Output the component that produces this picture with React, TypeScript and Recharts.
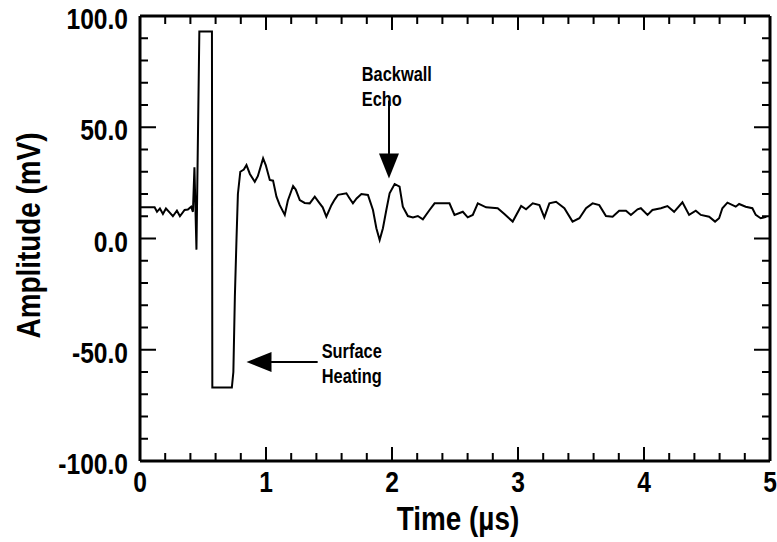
import React from "react";
import {
  LineChart,
  Line,
  XAxis,
  YAxis,
  ReferenceLine,
  ReferenceDot,
} from "recharts";

const times = [
  0, 0.116, 0.135, 0.158, 0.182, 0.206, 0.238, 0.261, 0.293, 0.317, 0.354,
  0.38, 0.406, 0.42, 0.432, 0.448, 0.471, 0.571, 0.574, 0.729, 0.741, 0.753,
  0.766, 0.777, 0.796, 0.824, 0.845, 0.872, 0.911, 0.935, 0.977, 0.998, 1.03,
  1.056, 1.083, 1.109, 1.149, 1.173, 1.215, 1.236, 1.268, 1.307, 1.347, 1.387,
  1.426, 1.45, 1.479, 1.519, 1.545, 1.571, 1.638, 1.664, 1.69, 1.719, 1.757,
  1.809, 1.849, 1.876, 1.902, 1.928, 1.955, 1.981, 2.021, 2.06, 2.086, 2.126,
  2.166, 2.205, 2.245, 2.298, 2.338, 2.456, 2.496, 2.562, 2.601, 2.641, 2.681,
  2.747, 2.839, 2.892, 2.958, 3.025, 3.064, 3.117, 3.17, 3.209, 3.249, 3.302,
  3.368, 3.433, 3.487, 3.54, 3.592, 3.645, 3.698, 3.751, 3.803, 3.857, 3.896,
  3.949, 3.975, 4.028, 4.067, 4.134, 4.186, 4.239, 4.305, 4.358, 4.411, 4.451,
  4.517, 4.564, 4.596, 4.622, 4.662, 4.728, 4.755, 4.807, 4.86, 4.887, 4.926,
  4.971,
];
const amps = [
  14, 14, 12, 13.5, 11, 13.5, 11.5, 10, 12.5, 10, 12.8, 13, 14.3, 12, 32, -5,
  93, 93, -67, -67, -60, -26, 0, 20, 30, 31, 33, 29, 25.5, 28, 36, 33, 26.3, 26,
  18.8, 15, 10.6, 17, 23.6, 22, 17.3, 16, 15.8, 18.8, 15.8, 14, 9.8, 15, 17.5,
  19.6, 20.3, 18, 15.8, 18, 20, 19.6, 12.8, 4.6, -0.7, 4.6, 12.8, 20.3, 24.5,
  23.3, 14.3, 10.1, 9.5, 10.1, 8.6, 12.8, 15.8, 15.8, 10.6, 12, 9.5, 10.6, 15.8,
  14, 13.6, 11, 7.6, 14.6, 13.1, 15.8, 15, 9.5, 15.8, 16.5, 13.6, 7.6, 9.1,
  13.6, 15.8, 15, 10.1, 9.8, 12.5, 12.5, 10.6, 13.1, 13.6, 10.6, 12.8, 13.6,
  14.6, 12, 16.3, 10.6, 12.5, 10.6, 9.8, 7.6, 9.1, 13.6, 16.1, 14.3, 15.5, 14.3,
  13.6, 10.6, 9.1, 9.8,
];

// ticks every 0.2 µs / 10 mV, labelled every 1 µs / 50 mV
const xTicks = [
  0, 0.2, 0.4, 0.6, 0.8, 1, 1.2, 1.4, 1.6, 1.8, 2, 2.2, 2.4, 2.6, 2.8, 3, 3.2,
  3.4, 3.6, 3.8, 4, 4.2, 4.4, 4.6, 4.8, 5,
];
const xLabelled = [0, 1, 2, 3, 4, 5];
const yTicks = [
  -100, -90, -80, -70, -60, -50, -40, -30, -20, -10, 0, 10, 20, 30, 40, 50, 60,
  70, 80, 90, 100,
];
const yLabelled = [-100, -50, 0, 50, 100];

const data = times.map((t, i) => ({ t, v: amps[i] }));

const FONT = "'Liberation Sans', Arial, sans-serif";
const INK = "#000";
const SQUEEZE = 0.82;

// px per data unit of the plot box (630 px / 5 µs, 445 px / 200 mV)
const PX_X = 126;
const PX_Y = 2.225;

// bold, horizontally condensed text (reference uses a narrow Helvetica)
function Narrow({ x, y, size, anchor = "start", rotate = 0, children }: any) {
  return (
    <text
      transform={`translate(${x} ${y}) rotate(${rotate}) scale(${SQUEEZE} 1)`}
      textAnchor={anchor}
      fontFamily={FONT}
      fontWeight="bold"
      fontSize={size}
      fill={INK}
    >
      {children}
    </text>
  );
}

const XLabel = (p: any) => (
  <Narrow x={p.x} y={p.y + 31} size={30} anchor="middle">
    {p.payload.value}
  </Narrow>
);
const YLabel = (p: any) => (
  <Narrow x={p.x - 12} y={p.y + 13} size={30} anchor="end">
    {Number(p.payload.value).toFixed(1)}
  </Narrow>
);

const xLen = (v: number) => (xLabelled.includes(v) ? 14 : 8);
const yLen = (v: number) => (yLabelled.includes(v) ? 16 : 8);

// all inward frame ticks, drawn around the plot centre (2.5 µs, 0 mV)
const frameTicks = (p: any) => {
  const bottom = p.cy + 100 * PX_Y;
  const top = p.cy - 100 * PX_Y;
  const left = p.cx - 2.5 * PX_X;
  const right = p.cx + 2.5 * PX_X;
  let d = "";
  xTicks.forEach((v) => {
    const x = p.cx + (v - 2.5) * PX_X;
    d += `M${x},${bottom}V${bottom - xLen(v)}M${x},${top}V${top + xLen(v)}`;
  });
  yTicks.forEach((v) => {
    const y = p.cy - v * PX_Y;
    d += `M${left},${y}H${left + yLen(v)}M${right},${y}H${right - yLen(v)}`;
  });
  return <path d={d} stroke={INK} strokeWidth={2} fill="none" />;
};

const note = (lines: string[]) => (p: any) => (
  <g>
    {lines.map((s, i) => (
      <Narrow key={s} x={p.cx} y={p.cy + i * 25} size={20}>
        {s}
      </Narrow>
    ))}
  </g>
);

const downHead = (p: any) => (
  <path
    d={`M${p.cx},${p.cy} L${p.cx - 10},${p.cy - 25} L${p.cx + 10},${p.cy - 25} Z`}
    fill={INK}
  />
);

const leftHead = (p: any) => (
  <path
    d={`M${p.cx},${p.cy} L${p.cx + 25},${p.cy - 10} L${p.cx + 25},${p.cy + 10} Z`}
    fill={INK}
  />
);

const axisLine = { stroke: INK, strokeWidth: 3 };

export default function App() {
  return (
    <div style={{ position: "absolute", left: 0, top: 0, background: "#fff" }}>
      <LineChart
        width={777}
        height={542}
        data={data}
        margin={{ top: 15, right: 6, bottom: 80, left: 139 }}
      >
        <XAxis
          xAxisId="b"
          dataKey="t"
          type="number"
          domain={[0, 5]}
          ticks={xLabelled}
          interval={0}
          height={1}
          tickSize={0}
          tickMargin={0}
          axisLine={axisLine}
          tickLine={false}
          tick={<XLabel />}
          allowDataOverflow
          label={{
            content: (p: any) => (
              <Narrow
                x={p.viewBox.x + p.viewBox.width / 2 + 3}
                y={530}
                size={34}
                anchor="middle"
              >
                Time (µs)
              </Narrow>
            ),
          }}
        />
        <XAxis
          xAxisId="t"
          dataKey="t"
          orientation="top"
          type="number"
          domain={[0, 5]}
          height={1}
          axisLine={axisLine}
          tickLine={false}
          tick={false}
          allowDataOverflow
        />
        <YAxis
          yAxisId="l"
          type="number"
          domain={[-100, 100]}
          ticks={yLabelled}
          interval={0}
          width={1}
          tickSize={0}
          tickMargin={0}
          axisLine={axisLine}
          tickLine={false}
          tick={<YLabel />}
          allowDataOverflow
          label={{
            content: (p: any) => (
              <Narrow
                x={40}
                y={p.viewBox.y + p.viewBox.height / 2 - 3}
                size={34}
                anchor="middle"
                rotate={-90}
              >
                Amplitude (mV)
              </Narrow>
            ),
          }}
        />
        <YAxis
          yAxisId="r"
          dataKey="v"
          orientation="right"
          type="number"
          domain={[-100, 100]}
          width={1}
          axisLine={axisLine}
          tickLine={false}
          tick={false}
          allowDataOverflow
        />
        <ReferenceDot xAxisId="b" yAxisId="l" x={2.5} y={0} r={0} shape={frameTicks} />
        <Line
          xAxisId="b"
          yAxisId="l"
          dataKey="v"
          type="linear"
          stroke={INK}
          strokeWidth={2}
          dot={false}
          isAnimationActive={false}
        />
        {/* Backwall echo */}
        <ReferenceLine
          xAxisId="b"
          yAxisId="l"
          segment={[
            { x: 1.976, y: 62 },
            { x: 1.976, y: 38 },
          ]}
          stroke={INK}
          strokeWidth={2}
        />
        <ReferenceDot xAxisId="b" yAxisId="l" x={1.976} y={27} r={0} shape={downHead} />
        <ReferenceDot
          xAxisId="b"
          yAxisId="l"
          x={1.76}
          y={71}
          r={0}
          shape={note(["Backwall", "Echo"])}
        />
        {/* Surface heating */}
        <ReferenceLine
          xAxisId="b"
          yAxisId="l"
          segment={[
            { x: 1.41, y: -55.5 },
            { x: 1.04, y: -55.5 },
          ]}
          stroke={INK}
          strokeWidth={2}
        />
        <ReferenceDot xAxisId="b" yAxisId="l" x={0.845} y={-55.5} r={0} shape={leftHead} />
        <ReferenceDot
          xAxisId="b"
          yAxisId="l"
          x={1.442}
          y={-53.5}
          r={0}
          shape={note(["Surface", "Heating"])}
        />
      </LineChart>
    </div>
  );
}
